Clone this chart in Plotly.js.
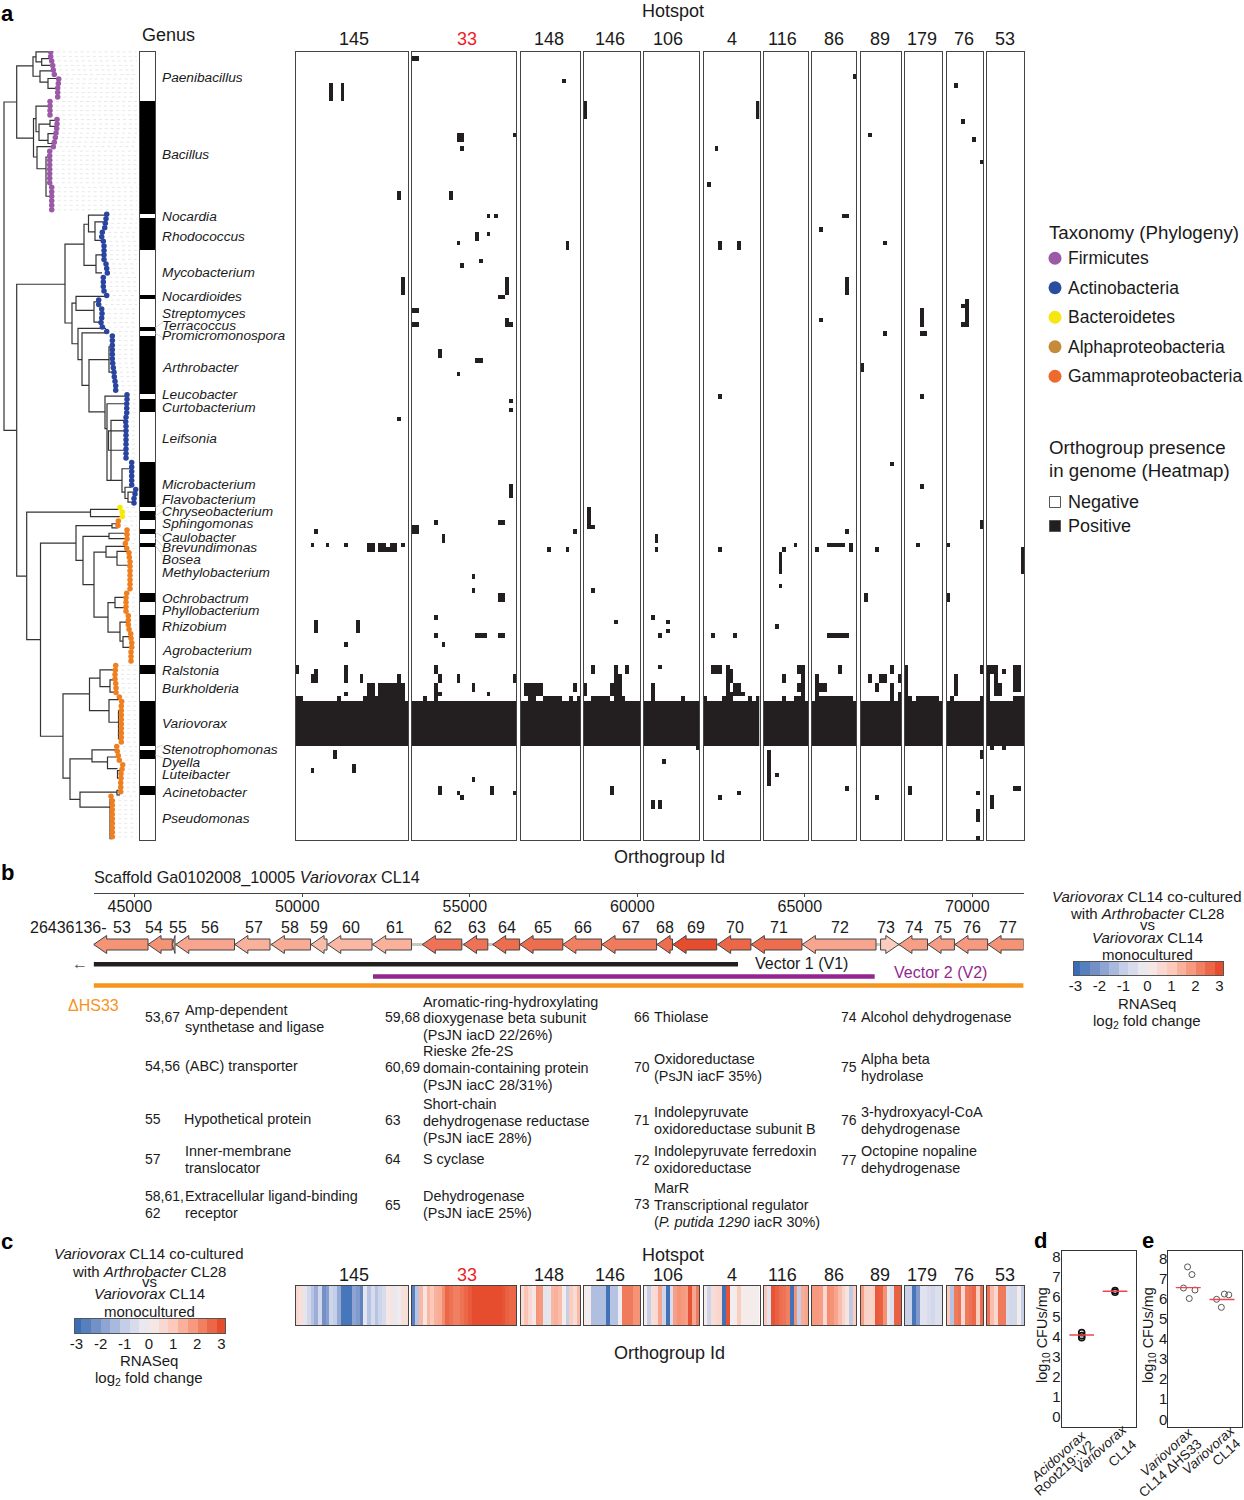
<!DOCTYPE html>
<html><head><meta charset="utf-8">
<script src="https://cdn.plot.ly/plotly-3.0.1.min.js"></script>
<style>html,body{margin:0;padding:0;background:#fff}</style></head>
<body><div id="chart" style="width:1244px;height:1500px"></div>
<script>
const W=1244,H=1500,FONT='"Liberation Sans",Arial,sans-serif';
/* ---------- a: heatmap data ---------- */
const hotspotNames=['145','33','148','146','106','4','116','86','89','179','76','53'];
const hotspotCols=[30,28,16,15,15,15,12,12,11,10,10,10];
const genomeRows=175;
const variovoraxRows=[144,153];
/* presence runs: [firstOrtholog,lastOrtholog,firstGenome,lastGenome] */
const cells145=[[9,9,7,10],[12,12,7,10],[27,27,31,32],[28,28,50,53],[27,27,81,81],[5,5,106,106],[4,4,109,109],[8,8,109,109],[13,13,109,109],[19,20,109,110],[22,23,109,110],[24,24,110,110],[25,26,109,110],[28,28,109,109],[5,5,126,128],[16,16,126,128],[13,13,131,131],[0,0,136,137],[5,5,137,139],[4,4,138,139],[13,13,136,139],[17,17,138,139],[27,27,138,139],[19,20,140,143],[22,28,140,143],[13,13,142,142],[0,1,143,143],[11,11,143,143],[18,18,143,143],[21,21,143,143],[10,10,155,156],[4,4,159,159],[15,15,158,159]];
const cells33=[[0,1,1,1],[12,13,18,19],[27,27,18,18],[13,13,21,21],[10,10,31,32],[20,20,36,36],[22,22,36,36],[17,17,40,41],[20,20,40,40],[12,12,42,42],[18,18,46,46],[13,13,47,47],[25,25,50,53],[23,24,54,54],[0,1,57,57],[0,1,60,60],[25,25,59,60],[26,26,60,60],[7,7,66,67],[17,18,68,68],[12,12,71,71],[26,26,77,77],[26,26,79,79],[26,26,96,98],[6,6,104,104],[23,24,104,104],[0,1,105,106],[8,8,107,108],[16,16,116,116],[16,16,119,119],[23,24,120,121],[6,6,125,125],[6,6,129,129],[17,19,129,129],[23,24,129,129],[8,8,131,131],[6,6,136,137],[7,7,138,139],[12,12,138,139],[27,27,138,139],[6,6,140,143],[7,7,142,142],[16,16,140,141],[20,20,142,142],[3,3,143,143],[7,7,163,164],[12,12,164,164],[13,13,165,165],[16,16,161,161],[21,21,163,164],[27,27,164,164]];
const cells148=[[11,11,6,6],[12,12,42,43],[14,14,106,106],[7,7,110,110],[12,12,110,110],[14,14,140,141],[1,5,140,142],[2,3,143,143],[6,10,143,143],[13,13,143,143],[15,15,143,143]];
const cells146=[[0,0,11,14],[1,1,101,104],[1,2,105,105],[2,2,119,119],[8,8,126,126],[2,2,136,137],[8,8,136,137],[8,9,138,139],[7,9,140,142],[11,11,136,137],[0,0,140,142],[2,6,143,143],[8,10,143,143],[7,7,163,164]];
const cells106=[[3,3,107,108],[3,3,110,110],[2,2,125,125],[6,6,126,126],[6,6,128,128],[4,4,129,129],[4,4,136,136],[2,2,140,143],[10,10,143,143],[14,14,154,154],[5,5,157,157],[2,2,166,167],[4,4,166,167]];
const cells4=[[14,14,11,14],[3,3,21,21],[1,1,29,29],[4,4,42,43],[9,9,42,43],[4,4,76,76],[4,4,110,110],[2,2,129,129],[8,8,129,129],[2,4,136,137],[6,6,136,143],[7,7,137,139],[8,9,140,141],[8,10,142,142],[7,7,142,143],[0,0,143,143],[5,5,143,143],[12,12,143,143],[14,14,143,143],[4,4,165,165],[9,9,164,164]];
const cells116=[[8,8,109,109],[5,5,110,110],[4,4,111,115],[4,4,118,118],[3,3,127,127],[5,5,138,139],[9,10,136,137],[10,10,138,139],[9,10,140,141],[10,10,142,143],[5,5,143,143],[8,9,143,143],[1,1,155,162],[3,3,160,160]];
const cells86=[[11,11,5,5],[2,2,39,39],[8,9,36,36],[9,9,50,53],[2,2,59,59],[9,9,106,106],[4,8,109,109],[10,10,109,110],[1,1,110,110],[4,9,129,129],[7,7,136,137],[1,1,138,142],[2,3,140,141],[1,10,143,143],[9,9,163,163]];
const cells89=[[2,2,18,18],[6,6,42,42],[6,6,62,62],[0,0,69,70],[8,8,91,91],[4,4,110,110],[1,1,120,121],[8,8,136,137],[2,2,138,139],[5,6,138,139],[4,4,140,141],[10,10,138,139],[8,8,140,143],[10,10,142,143],[4,4,165,165]];
const cells179=[[4,4,57,60],[4,5,62,62],[4,4,76,76],[4,4,96,96],[3,3,109,109],[0,0,136,143],[1,1,143,143],[3,8,143,143],[1,1,163,164]];
const cells76=[[2,2,7,7],[4,4,15,15],[7,7,19,19],[9,9,24,24],[5,5,55,60],[4,4,56,56],[4,4,60,60],[9,9,104,105],[0,0,109,109],[0,0,120,121],[9,9,136,137],[2,2,138,142],[1,1,143,143],[9,9,143,143],[9,9,155,156],[8,8,164,164],[8,8,168,170],[8,8,174,174]];
const cells53=[[9,9,110,115],[0,2,136,137],[0,0,138,143],[2,2,138,139],[2,3,140,142],[4,4,137,137],[7,8,136,141],[7,9,143,143],[1,1,154,154],[4,4,154,154],[1,1,165,167],[7,8,163,163]];
const hotspotCells=[cells145,cells33,cells148,cells146,cells106,cells4,cells116,cells86,cells89,cells179,cells76,cells53];
/* ---------- a: genus strip ---------- */
const genusNames=['Paenibacillus','Bacillus','Nocardia','Rhodococcus','Mycobacterium','Nocardioides','Streptomyces','Terracoccus','Promicromonospora','Arthrobacter','Leucobacter','Curtobacterium','Leifsonia','Microbacterium','Flavobacterium','Chryseobacterium','Sphingomonas','Caulobacter','Brevundimonas','Bosea','Methylobacterium','Ochrobactrum','Phyllobacterium','Rhizobium','Agrobacterium','Ralstonia','Burkholderia','Variovorax','Stenotrophomonas','Dyella','Luteibacter','Acinetobacter','Pseudomonas'];
const genusCounts=[11,25,1,7,10,1,6,1,1,13,1,3,11,10,1,2,2,1,2,1,10,2,3,5,6,2,6,10,1,2,6,2,10];
const genusLabelY=[77,155,216,236,273,297,313,325,336,368,395,407,438,484,500,511,524,537,548,559,572,598,610,627,651,670,688,723,749,762,774,793,818];
/* ---------- a: phylogeny ---------- */
const firmicutesTipX=[50.7,50.7,51.7,52.7,53.3,54.3,58.7,58.3,57.7,57.7,57.7,50,50,50,50,57,57,56.7,56,55.3,54.3,53.3,49.7,49.7,49.7,49.7,49.7,49.7,49.7,49.7,51.7,51.7,51.7,51.7,51.7,51.7];
const actinoTipX=[106.7,106,105.3,104.7,102.3,101.7,103.3,104,104,104,104,106,106.7,107.3,103.3,103.3,103.3,104,106.7,98.7,98.7,101.7,102,101.7,101,102.3,106.7,112.3,112.3,112.3,112.3,112.3,112.3,112.7,113.3,114,114.3,115,115.7,115.7,127,127,126.7,126.7,126.7,126,125.7,126,126,126,126,126,126,126,126,131.7,131.7,131.7,131.7,131.7,131.7,135.7,135,134,134];
const bacteroTipX=[120,122.3,122.3];
const proteoTipX=[118.3,118,127,127,127,125.3,126.7,129,129.3,130,130,130,130,130,130,130,126.7,126,126,126,126,128.3,128.3,128.3,129,130.7,131,131.7,131.7,131,131,131,115.7,115.3,115,115,115.7,116,116,119.3,121.7,121.3,121.3,121.3,121.3,121.3,121.3,121.3,121.3,121.3,116.7,117.3,118.3,119.3,122.7,122,121,121,120.7,120.7,120.7,111,112.3,112.3,112.3,112.3,112.3,112.3,112.3,112.3,112.3];
/* forks: [depth,topRow,bottomRow,topChildDepth,bottomChildDepth] */
const treeForks=[[4,11.1,83.9,16.7,16.7],[16.7,3.1,19.1,33,33.5],[33,1.1,5.4,36,40],[36,0,2.2,50.7,41.7],[41.7,1.5,3,51,53],[40,4.2,6.7,54,48],[48,5.9,8.1,58,58],[33.5,14.8,23.3,36,37],[36,12,17.7,49,39],[39,16,19.6,50,48],[50,15.2,16.5,57,57],[48,18.1,20.3,56,54],[37,21,25.9,53,46],[46,23.3,32,49.5,51],[16.7,51.5,116.2,65,26.7],[65,42.6,60.1,84,72],[84,38.2,47.3,88.5,96],[88.5,36.2,39.9,106,95],[95,37.7,41.8,103,101],[96,45,49,104,102],[72,55.7,64.7,76,78],[76,54.2,57.3,106,94],[94,55.4,59.9,99,100],[78,61.3,68.2,106,82],[82,62.3,73.9,107,89],[89,68.2,79.8,109,105],[109,65.4,71,112,113],[105,76.3,83.5,127,107],[107,78,95,126,111],[111,81.7,95,126,122],[108.5,84,88.3,126,126],[122,92.4,97.6,131,125],[125,96.5,99,131,128],[128,97.6,99.8,135,134],[26.7,102,130.3,90.5,40.5],[90.5,101.4,103,120,122],[40.5,108.9,151.7,76,63],[76,105,112.7,112,83],[112,104.6,105.5,118,118],[83,107.4,118.1,109,94],[109,106.7,107.9,127,127],[94,110.9,125.3,106,108],[106,109.6,112,125,117],[117,110.7,113.8,128,130],[108,122.1,128.6,115,120],[115,120.9,123.2,126,126],[120,126.4,130.6,128,123],[123,129.6,132,130,131],[63,142.3,161,89.5,70],[89.5,138.8,146,100,109],[100,137,140.7,115,110],[110,139.2,141.9,115,116],[109,143.6,148.6,119,118.5],[118.5,146,152.3,122,121],[70,156.7,165.7,92,80],[92,154.7,157.4,116,107.5],[107.5,156.3,158.9,117,117.5],[117.5,159.3,161,122,120],[80,164.1,167.4,117,110],[117,163.7,164.7,120,120],[110,165.7,174.4,111,112]];
/* ---------- legends ---------- */
const taxonomyNames=['Firmicutes','Actinobacteria','Bacteroidetes','Alphaproteobacteria','Gammaproteobacteria'];
const taxonomyColors=['#9b59a8','#2a4da0','#f5e614','#c58b3a','#ee6a2c'];
const presenceNames=['Negative','Positive'];
/* ---------- b: genes ---------- */
const geneIds=[53,54,55,56,57,58,59,60,61,62,63,64,65,66,67,68,69,70,71,72,73,74,75,76,77];
const geneStart=[43770,45394,46119,46221,47985,49075,50260,50758,52099,53582,54812,55681,56499,57776,58946,60588,61066,62397,63403,64925,67262,67808,68677,69481,70469];
const geneEnd=[45394,46119,46200,47976,49036,50245,50737,52081,53260,54761,55537,56487,57776,58931,60576,61051,62370,63391,64913,67125,67808,68662,69466,70457,71531];
const geneFold=[1.9,1.9,1.5,1.6,1.4,1.5,1.2,1.3,1.4,2.4,2.4,2.5,2.5,2.2,2.3,2.5,3,2.6,2.5,1.6,0.9,1.7,1.7,1.8,1.9];
const geneReverse=[1,1,1,1,1,1,1,1,1,1,1,1,1,1,1,1,1,1,1,1,0,1,1,1,1];
const geneLabelX=[122,154,178,210,254,290,319,351,395,443,477,507,543,583,631,665,696,735,779,840,886,914,943,972,1008];
const vector1=[43770,63006],vector2=[52110,67086],deltaHS33=[43770,71531];
const genomeTicks=[45000,50000,55000,60000,65000,70000];
/* ---------- c: fold change per orthogroup ---------- */
const fold145=[0.6,0.4,-0.3,-0.7,-1.2,-1.6,-0.7,-2.2,-1.9,-0.8,-1,-1.7,-2.8,-2.8,-2.8,-1.8,-2,-2.5,-0.3,-1.2,-0.6,-1.2,-0.8,-0.6,0.2,0.3,-0.2,-0.1,0.4,0.4];
const fold33=[-2.6,-1.2,1.3,0.3,1.3,1,1.4,1.5,2,2.6,2.4,2.2,2.2,2.4,2.6,2.8,3,3,3,3,3,3,3,3,2.9,2.7,2.6,2.6];
const fold148=[0.5,1.1,0.6,0.2,1.9,1.8,-0.3,-0.3,1.3,1.4,1.2,0.1,-1,0.9,0.5,1.3];
const fold146=[0.1,0.1,-1.3,-1.3,-1.3,-1.3,-2.9,-1.2,-1.2,-0.1,2.3,2.3,2.3,1.9,1.9];
const fold106=[0.1,-1,0.5,0.6,1.6,-0.8,-2.9,-0.6,1.7,1.9,1.8,1.7,2.9,1.6,2.3];
const fold4=[0.1,-0.8,0.5,0.6,0.7,-2.9,2.9,0,0.1,0.9,0.1,0.1,0.1,0.1,0.1];
const fold116=[1,-0.4,2.9,2.7,2.5,2.4,2.2,-2.9,1.9,-1,1.5,1.6];
const fold86=[1.8,1.8,1.7,0.6,2,1.9,1.6,1.2,0.7,0.3,-1.1,0.9];
const fold89=[1.7,0.8,0.7,0.8,2.8,2.7,1.9,-0.2,-0.5,2.7,2.7];
const fold179=[-0.9,-0.9,-2.8,-2,-0.4,-0.4,-0.6,-0.7,-0.5,-0.5];
const fold76=[1,-1.2,2.3,2.4,0.6,2.3,2.4,2.6,0.9,2.5];
const fold53=[2.4,1.2,0.6,2.3,2.3,-0.6,-0.7,-0.7,0.1,-1];
const hotspotFold=[fold145,fold33,fold148,fold146,fold106,fold4,fold116,fold86,fold89,fold179,fold76,fold53];
const scaleLevels=[-3,-2.6,-2.2,-1.8,-1.4,-1,-0.6,-0.2,0.2,0.6,1,1.4,1.8,2.2,2.6,3];
const scaleTicks=[-3,-2,-1,0,1,2,3];
/* ---------- d, e ---------- */
const dX=[1,1,1,2,2],dY=[4.2,4.05,3.95,6.3,6.22];
const dMedX=[1,2],dMedY=[4.08,6.27];
const eX=[0.98,1.11,0.86,1.2,1.03,1.84,1.98,2.07,2.2],eY=[7.57,7.19,6.52,6.42,6,5.96,5.56,6.22,6.18];
const eMedX=[1,2],eMedY=[6.54,5.95];
const cfuTicks=[0,1,2,3,4,5,6,7,8];

/* ---------- geometry of panels on the page ---------- */
const panelX=[[295.5,408],[411.5,516],[520.5,580],[583.5,640],[643.5,699],[703.5,759.5],[763.5,808],[811.5,856],[860.5,901],[904.5,942],[946.5,983],[986.5,1024]];
const foldColors=[[0,'#3a6db5'],[1/6,'#8199cc'],[2/6,'#c4cee8'],[0.5,'#f3eff0'],[4/6,'#fcc9ba'],[5/6,'#f48d70'],[1,'#e64d2e']];
function colorAt(v){const t=(v+3)/6;for(let i=1;i<foldColors.length;i++){if(t<=foldColors[i][0]){const a=foldColors[i-1],b=foldColors[i],f=(t-a[0])/(b[0]-a[0]);const p=s=>[1,3,5].map(k=>parseInt(s.substr(k,2),16));const A=p(a[1]),B=p(b[1]);return 'rgb('+A.map((c,j)=>Math.round(c+(B[j]-c)*f)).join(',')+')';}}return foldColors[6][1];}

const data=[],annotations=[],shapes=[];
const layout={width:W,height:H,margin:{l:0,r:0,t:0,b:0},paper_bgcolor:'#fff',plot_bgcolor:'rgba(0,0,0,0)',showlegend:false,font:{family:FONT,color:'#1a1a1a'},annotations,shapes,hovermode:false};
let axisN=1;
const hidden={visible:false,fixedrange:true};
function axes(xpx,ypx,xo,yo){
  const n=axisN++,s=n===1?'':String(n);
  layout['xaxis'+s]=Object.assign({domain:[xpx[0]/W,xpx[1]/W],anchor:'y'+s,fixedrange:true,zeroline:false,showgrid:false},xo);
  layout['yaxis'+s]=Object.assign({domain:[1-ypx[1]/H,1-ypx[0]/H],anchor:'x'+s,fixedrange:true,zeroline:false,showgrid:false},yo);
  return {xaxis:'x'+s,yaxis:'y'+s};
}
const boxX=n=>({range:[-0.5,n-0.5],showline:true,mirror:true,linecolor:'#444',linewidth:1,ticks:'',showticklabels:false});
const boxY=r=>({range:r,showline:true,mirror:true,linecolor:'#444',linewidth:1,ticks:'',showticklabels:false});
function t(x,y,text,o){o=o||{};annotations.push({xref:'paper',yref:'paper',x:x/W,y:1-y/H,text:text,showarrow:false,xanchor:o.a||'left',yanchor:'middle',borderpad:0,borderwidth:0,textangle:o.angle||0,font:{family:FONT,size:o.s||14,color:o.c||'#1a1a1a'}});}

/* a: presence heatmaps */
hotspotNames.forEach((nm,i)=>{
  const n=hotspotCols[i],z=[];
  for(let r=0;r<genomeRows;r++){z.push(new Array(n).fill(r>=variovoraxRows[0]&&r<=variovoraxRows[1]?1:0));}
  hotspotCells[i].forEach(c=>{for(let r=c[2];r<=c[3];r++)for(let k=c[0];k<=c[1];k++)if(k<n)z[r][k]=1;});
  const ax=axes(panelX[i],[51.5,840.3],boxX(n),boxY([genomeRows-0.5,-0.5]));
  data.push(Object.assign({type:'heatmap',z:z,zmin:0,zmax:1,showscale:false,colorscale:[[0,'#ffffff'],[1,'#231f20']],hoverinfo:'skip'},ax));
});
/* genus strip */
(function(){
  const z=[];let black=0;genusCounts.forEach(c=>{for(let k=0;k<c;k++)z.push([black]);black=1-black;});
  const ax=axes([140,155],[51.5,840.3],boxX(1),boxY([genomeRows-0.5,-0.5]));
  data.push(Object.assign({type:'heatmap',z:z,zmin:0,zmax:1,showscale:false,colorscale:[[0,'#ffffff'],[1,'#000000']],hoverinfo:'skip'},ax));
})();
/* phylogeny */
(function(){
  const ax=axes([0,139],[51,840],Object.assign({range:[0,139]},hidden),Object.assign({range:[174.7,-0.2]},hidden));
  const allTips=firmicutesTipX.concat(actinoTipX,bacteroTipX,proteoTipX);
  const gx=[],gy=[];allTips.forEach((x,r)=>{gx.push(x,137,null);gy.push(r,r,null);});
  data.push(Object.assign({type:'scatter',mode:'lines',x:gx,y:gy,line:{color:'#d8d8d8',width:0.6,dash:'dot'},hoverinfo:'skip'},ax));
  const lx=[],ly=[];
  treeForks.forEach(f=>{lx.push(f[3],f[0],f[0],f[4],null);ly.push(f[1],f[1],f[2],f[2],null);});
  data.push(Object.assign({type:'scatter',mode:'lines',x:lx,y:ly,line:{color:'#333333',width:1.2},hoverinfo:'skip'},ax));
  let start=0;[[firmicutesTipX,'#9b59a8'],[actinoTipX,'#2a45a0'],[bacteroTipX,'#f7ea00'],[proteoTipX,'#f07f1f']].forEach(g=>{
    data.push(Object.assign({type:'scatter',mode:'markers',x:g[0],y:g[0].map((_,k)=>start+k),marker:{color:g[1],size:5.5},hoverinfo:'skip'},ax));start+=g[0].length;});
})();
genusNames.forEach((g,i)=>t(162,genusLabelY[i],'<i>'+g+'</i>',{s:13.7}));
/* leader lines */
[[155,328,163,322],[155,333,163,338],[155,508,163,503],[155,516,163,511],[155,532,163,537],[155,538,163,547],[155,545,163,556],[155,748,163,745],[155,755,163,758]].forEach(l=>shapes.push({type:'line',xref:'paper',yref:'paper',x0:l[0]/W,x1:l[2]/W,y0:1-l[1]/H,y1:1-l[3]/H,line:{color:'#c4c4c4',width:0.7}}));
const numCx=[354,467,549,610,668,732,782,834,880,922,964,1005];
hotspotNames.forEach((nm,i)=>{t(numCx[i],39,nm,{s:18,a:'center',c:nm==='33'?'#ee1c25':'#1a1a1a'});t(numCx[i],1275,nm,{s:18,a:'center',c:nm==='33'?'#ee1c25':'#1a1a1a'});});
t(673,10.5,'Hotspot',{s:18,a:'center'});t(669,857,'Orthogroup Id',{s:18,a:'center'});t(168,35,'Genus',{s:18,a:'center'});
[['a',7,13],['b',7,872],['c',7,1241],['d',1040,1240],['e',1148,1240]].forEach(p=>t(p[1],p[2],'<b>'+p[0]+'</b>',{s:22,a:'center',c:'#000'}));
/* legends */
(function(){
  const ax=axes([1047,1063],[243.5,391],Object.assign({range:[0,1]},hidden),Object.assign({range:[4.5,-0.5]},hidden));
  data.push(Object.assign({type:'scatter',mode:'markers',x:taxonomyNames.map(()=>0.5),y:taxonomyNames.map((_,i)=>i),marker:{color:taxonomyColors,size:13},hoverinfo:'skip'},ax));
  taxonomyNames.forEach((n,i)=>t(1068,258+29.5*i,n,{s:17.5}));
  const ax2=axes([1047,1063],[490,538],Object.assign({range:[0,1]},hidden),Object.assign({range:[1.5,-0.5]},hidden));
  data.push(Object.assign({type:'scatter',mode:'markers',x:[0.5,0.5],y:[0,1],marker:{symbol:'square',size:11,color:['#fff','#231f20'],line:{color:'#555',width:1}},hoverinfo:'skip'},ax2));
  presenceNames.forEach((n,i)=>t(1068,502+24*i,n,{s:18}));
  t(1049,232,'Taxonomy (Phylogeny)',{s:18.7});t(1049,447,'Orthogroup presence',{s:18.7});t(1049,470,'in genome (Heatmap)',{s:18.7});
})();
/* b: gene map */
(function(){
  const ax=axes([93.6,1023.6],[892.7,990],{range:[43770,71531],position:1-892.7/H,showline:true,linecolor:'#444',linewidth:1,ticks:'outside',ticklen:3,tickcolor:'#444',tickvals:genomeTicks,ticktext:genomeTicks.map(String),tickfont:{size:16,family:FONT},ticklabelstandoff:-4,ticklabelshift:-5},Object.assign({range:[-45.5,51.8]},hidden));
  layout[ax.xaxis.replace('x','xaxis')].anchor='free';
  data.push(Object.assign({type:'scatter',mode:'lines',x:[geneStart[0],geneEnd[geneEnd.length-1]],y:[0,0],line:{color:'#c8c8c8',width:3},hoverinfo:'skip'},ax));
  const body=5.5,head=9,headLen=390;
  geneIds.forEach((id,i)=>{
    const a=geneStart[i],b=geneEnd[i],h=Math.min(headLen,b-a);let xs,ys;
    if(geneReverse[i]){xs=[a,a+h,a+h,b,b,a+h,a+h,a];ys=[0,head,body,body,-body,-body,-head,0];}
    else{xs=[b,b-h,b-h,a,a,b-h,b-h,b];ys=[0,-head,-body,-body,body,body,head,0];}
    data.push(Object.assign({type:'scatter',mode:'lines',x:xs,y:ys,fill:'toself',fillcolor:colorAt(geneFold[i]),line:{color:'#444',width:1},hoverinfo:'skip'},ax));
    t(geneLabelX[i],927.5,String(id),{s:16,a:'center'});
  });
  [[vector1,-19.7,'#231f20',4.6],[vector2,-32,'#93278f',4.6],[deltaHS33,-41,'#f7941d',4.6]].forEach(v=>
    data.push(Object.assign({type:'scatter',mode:'lines',x:v[0],y:[v[1],v[1]],line:{color:v[2],width:v[3]},hoverinfo:'skip'},ax)));
})();
t(94,877,'Scaffold Ga0102008_10005 <i>Variovorax</i> CL14',{s:16.2});
t(30,927.5,'26436136-',{s:16});
t(72,963,'←',{s:16,c:'#555'});
t(755,963,'Vector 1 (V1)',{s:16});t(894,973,'Vector 2 (V2)',{s:16,c:'#93278f'});t(68,1005,'ΔHS33',{s:16,c:'#f7941d'});
/* gene descriptions */
const geneNoteNums=[[145,1017,'53,67'],[145,1066,'54,56'],[145,1119,'55'],[145,1159,'57'],[145,1196,'58,61,'],[145,1213,'62'],[385,1017,'59,68'],[385,1067,'60,69'],[385,1120,'63'],[385,1159,'64'],[385,1205,'65'],[634,1017,'66'],[634,1067,'70'],[634,1120,'71'],[634,1160,'72'],[634,1204,'73'],[841,1017,'74'],[841,1067,'75'],[841,1120,'76'],[841,1160,'77']];
const geneNotes=[[185,1010,'Amp-dependent'],[185,1027,'synthetase and ligase'],[185,1066,'(ABC) transporter'],[184,1119,'Hypothetical protein'],[185,1151,'Inner-membrane'],[185,1168,'translocator'],[185,1196,'Extracellular ligand-binding'],[185,1213,'receptor'],
[423,1002,'Aromatic-ring-hydroxylating'],[423,1018,'dioxygenase beta subunit'],[423,1035,'(PsJN iacD 22/26%)'],[423,1051,'Rieske 2fe-2S'],[423,1068,'domain-containing protein'],[423,1085,'(PsJN iacC 28/31%)'],[423,1104,'Short-chain'],[423,1121,'dehydrogenase reductase'],[423,1138,'(PsJN iacE 28%)'],[423,1159,'S cyclase'],[423,1196,'Dehydrogenase'],[423,1213,'(PsJN iacE 25%)'],
[654,1017,'Thiolase'],[654,1059,'Oxidoreductase'],[654,1076,'(PsJN iacF 35%)'],[654,1112,'Indolepyruvate'],[654,1129,'oxidoreductase subunit B'],[654,1151,'Indolepyruvate ferredoxin'],[654,1168,'oxidoreductase'],[654,1188,'MarR'],[654,1205,'Transcriptional regulator'],[654,1222,'(<i>P. putida 1290</i> iacR 30%)'],
[861,1017,'Alcohol dehydrogenase'],[861,1059,'Alpha beta'],[861,1076,'hydrolase'],[861,1112,'3-hydroxyacyl-CoA'],[861,1129,'dehydrogenase'],[861,1151,'Octopine nopaline'],[861,1168,'dehydrogenase']];
geneNoteNums.forEach(n=>t(n[0],n[1],n[2],{s:14}));
geneNotes.forEach(n=>t(n[0],n[1],n[2],{s:14.4}));
/* fold-change scales */
function foldScale(xp,yp){
  const xo={range:[-3.06,3.15],showline:true,mirror:true,linecolor:'#555',linewidth:1,ticks:'',tickvals:scaleTicks,ticktext:scaleTicks.map(String),tickfont:{size:15,family:FONT},ticklabelstandoff:-3};
  const ax=axes(xp,yp,xo,{range:[-0.5,0.5],showline:true,mirror:true,linecolor:'#555',linewidth:1,ticks:'',showticklabels:false});
  data.push(Object.assign({type:'heatmap',x:scaleLevels,z:[scaleLevels],zmin:-3,zmax:3,showscale:false,colorscale:foldColors,hoverinfo:'skip'},ax));
}
foldScale([1074,1223],[962,975]);foldScale([75,225],[1319,1333]);
[[1147,896,'<i>Variovorax</i> CL14 co-cultured'],[1147,914,'with <i>Arthrobacter</i> CL28'],[1147,924,'vs'],[1147,937,'<i>Variovorax</i> CL14'],[1147,954,'monocultured'],[1147,1003,'RNASeq'],[1147,1021,'log<sub>2</sub> fold change'],
 [149,1253,'<i>Variovorax</i> CL14 co-cultured'],[149,1271,'with <i>Arthrobacter</i> CL28'],[149,1281,'vs'],[149,1293,'<i>Variovorax</i> CL14'],[149,1311,'monocultured'],[149,1360,'RNASeq'],[149,1378,'log<sub>2</sub> fold change']].forEach(n=>t(n[0],n[1],n[2],{s:15,a:'center'}));
/* c: fold-change strips */
hotspotNames.forEach((nm,i)=>{
  const ax=axes(panelX[i],[1286,1325],boxX(hotspotCols[i]),boxY([-0.5,0.5]));
  data.push(Object.assign({type:'heatmap',z:[hotspotFold[i]],zmin:-3,zmax:3,showscale:false,colorscale:foldColors,hoverinfo:'skip'},ax));
});
t(673,1255,'Hotspot',{s:18,a:'center'});t(669,1353,'Orthogroup Id',{s:18,a:'center'});
/* d, e */
function cfu(xp,xr,yr,px,py,mx,my,mw,mc){
  const ax=axes(xp,[1251,1427.3],{range:xr,showline:true,mirror:true,linecolor:'#333',linewidth:1,ticks:'',showticklabels:false},
   {range:yr,showline:true,mirror:true,linecolor:'#333',linewidth:1,ticks:'',tickvals:cfuTicks,tickfont:{size:15,family:FONT},ticklabelstandoff:-3});
  const lx=[],ly=[];mx.forEach((m,i)=>{lx.push(m-0.37,m+0.37,null);ly.push(my[i],my[i],null);});
  data.push(Object.assign({type:'scatter',mode:'markers',x:px,y:py,marker:{symbol:'circle-open',size:6,color:mc,line:{width:mw,color:mc}},hoverinfo:'skip'},ax));
  data.push(Object.assign({type:'scatter',mode:'lines',x:lx,y:ly,line:{color:'#f0454f',width:1.4},hoverinfo:'skip'},ax));
}
cfu([1061.7,1135.7],[0.4,2.62],[-0.53,8.28],dX,dY,dMedX,dMedY,1.6,'#111');
cfu([1168.3,1242.3],[0.41,2.6],[-0.4,8.36],eX,eY,eMedX,eMedY,1,'#555');
t(1043,1335,'log<sub>10</sub> CFUs/mg',{s:14.5,a:'center',angle:-90});
t(1149,1335,'log<sub>10</sub> CFUs/mg',{s:14.5,a:'center',angle:-90});
[[1058,1456,'<i>Acidovorax</i>'],[1064,1468.5,'Root219::V2'],[1100,1449,'<i>Variovorax</i>'],[1122,1453,'CL14'],[1166,1452,'<i>Variovorax</i>'],[1170,1468.5,'CL14 ΔHS33'],[1208,1450,'<i>Variovorax</i>'],[1226,1452,'CL14']].forEach(n=>t(n[0],n[1],n[2],{s:13.5,a:'center',angle:-42}));

Plotly.newPlot('chart',data,layout,{displayModeBar:false,staticPlot:true});
</script></body></html>
